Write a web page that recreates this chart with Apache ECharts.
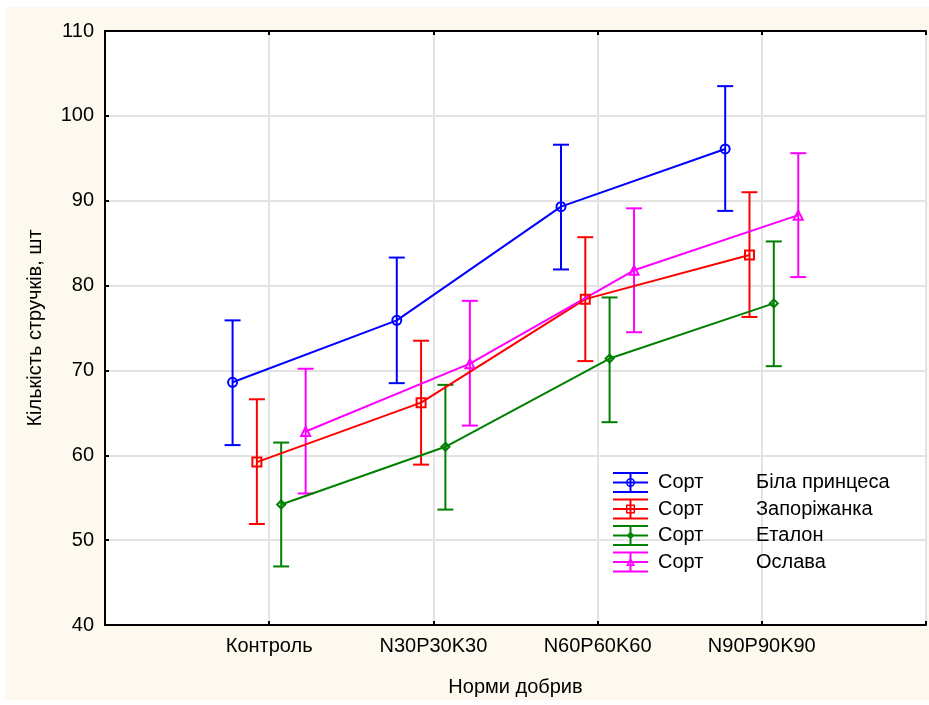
<!DOCTYPE html>
<html>
<head>
<meta charset="utf-8">
<script src="https://cdn.jsdelivr.net/npm/echarts@6/dist/echarts.min.js"></script>
<style>
html,body{margin:0;padding:0;background:#fff;}
#bg{position:absolute;left:5px;top:7px;width:924px;height:693px;background:#FDF9EE;}
#chart{position:absolute;left:0;top:0;width:929px;height:705px;}
</style>
</head>
<body>
<div id="bg"></div>
<div id="chart"></div>
<script>
// ---- data ----
const categories = ['Контроль', 'N30P30K30', 'N60P60K60', 'N90P90K90'];
const varieties = ['Біла принцеса', 'Запоріжанка', 'Еталон', 'Ослава'];
const groupLabel = 'Сорт';

const bilaMean = [68.6, 75.9, 89.3, 96.1];
const bilaLow  = [61.2, 68.5, 81.9, 88.8];
const bilaHigh = [75.9, 83.3, 96.6, 103.5];

const zaporMean = [59.2, 66.2, 78.4, 83.6];
const zaporLow  = [51.9, 58.9, 71.1, 76.3];
const zaporHigh = [66.6, 73.5, 85.7, 91.0];

const etalonMean = [54.2, 61.0, 71.4, 77.9];
const etalonLow  = [46.9, 53.6, 63.9, 70.5];
const etalonHigh = [61.5, 68.3, 78.6, 85.2];

const oslavaMean = [62.8, 70.8, 81.8, 88.3];
const oslavaLow  = [55.5, 63.5, 74.5, 81.0];
const oslavaHigh = [70.2, 78.2, 89.1, 95.6];

const yTicks = [40, 50, 60, 70, 80, 90, 100, 110];
const xTitle = 'Норми добрив';
const yTitle = 'Кількість стручків, шт';

// ---- styling ----
const means = [bilaMean, zaporMean, etalonMean, oslavaMean];
const lows = [bilaLow, zaporLow, etalonLow, oslavaLow];
const highs = [bilaHigh, zaporHigh, etalonHigh, oslavaHigh];
const colors = ['#0000FF', '#FF0000', '#008000', '#FF00FF'];
const offsets = [-0.223, -0.075, 0.073, 0.222];
const symbols = ['circle', 'rect', 'diamond', 'triangle'];
const symbolSizes = [9, 9, 8, 9];
const FONT = 'Liberation Sans, Arial, sans-serif';
const FS = 20;

const bars = 'M0 0H35V2H0Z M0 19H35V21H0Z M0 9.5H35V11.5H0Z M16.5 0H18.5V21H16.5Z ';
const legendMarks = [
  'M22 10.5A4.5 4.5 0 1 1 13 10.5A4.5 4.5 0 1 1 22 10.5Z M20.5 10.5A3 3 0 1 0 14.5 10.5A3 3 0 1 0 20.5 10.5Z',
  'M13 6H22V15H13Z M14.5 7.5V13.5H20.5V7.5Z',
  'M17.5 6.5L21.5 10.5L17.5 14.5L13.5 10.5Z M17.5 8L15 10.5L17.5 13L20 10.5Z',
  'M17.5 5.5L22 14.5H13Z M17.5 8.5L15.4 13H19.6Z'
];

const series = [];
varieties.forEach((name, i) => {
  series.push({
    name: name,
    type: 'custom',
    z: 2,
    data: categories.map((c, k) => [k + 1 + offsets[i], lows[i][k], highs[i][k]]),
    renderItem: function (params, api) {
      const x = api.value(0);
      const lo = api.coord([x, api.value(1)]);
      const hi = api.coord([x, api.value(2)]);
      const hw = 8;
      const st = { stroke: colors[i], lineWidth: 2, fill: null };
      return {
        type: 'group',
        children: [
          { type: 'line', shape: { x1: lo[0], y1: lo[1], x2: hi[0], y2: hi[1] }, style: st },
          { type: 'line', shape: { x1: lo[0] - hw, y1: lo[1], x2: lo[0] + hw, y2: lo[1] }, style: st },
          { type: 'line', shape: { x1: hi[0] - hw, y1: hi[1], x2: hi[0] + hw, y2: hi[1] }, style: st }
        ]
      };
    },
    encode: { x: 0, y: [1, 2] },
    silent: true
  });
  series.push({
    name: name,
    type: 'line',
    z: 3,
    data: categories.map((c, k) => [k + 1 + offsets[i], means[i][k]]),
    symbol: symbols[i],
    symbolSize: symbolSizes[i],
    showAllSymbol: true,
    lineStyle: { color: colors[i], width: 2 },
    itemStyle: { color: 'rgba(0,0,0,0)', borderColor: colors[i], borderWidth: 2 },
    animation: false,
    silent: true
  });
});

const axisLineStyle = { show: true, lineStyle: { color: '#000', width: 2 } };
const tickStyle = { show: true, inside: true, length: 4, lineStyle: { color: '#000', width: 2 } };

const chart = echarts.init(document.getElementById('chart'), null, { renderer: 'canvas' });
chart.setOption({
  animation: false,
  backgroundColor: 'transparent',
  color: colors,
  textStyle: { fontFamily: FONT, color: '#000' },
  grid: {
    left: 105, top: 31, right: 3, bottom: 80,
    show: true, backgroundColor: '#FFFFFF', borderWidth: 0
  },
  legend: {
    orient: 'vertical',
    left: 608,
    top: 467,
    itemWidth: 35,
    itemHeight: 21,
    itemGap: 5.5,
    selectedMode: false,
    data: varieties.map((name, i) => ({
      name: name,
      icon: 'path://' + bars + legendMarks[i],
      itemStyle: { color: colors[i], borderWidth: 0 }
    })),
    formatter: function (name) { return '{a|' + groupLabel + '}{b|' + name + '}'; },
    textStyle: {
      fontFamily: FONT, fontSize: FS, color: '#000', lineHeight: 21,
      rich: {
        a: { fontFamily: FONT, fontSize: FS, color: '#000', width: 98, padding: [0, 0, 0, 5] },
        b: { fontFamily: FONT, fontSize: FS, color: '#000' }
      }
    }
  },
  xAxis: [{
    type: 'value',
    min: 0, max: 5, interval: 1,
    position: 'bottom',
    name: xTitle,
    nameLocation: 'middle',
    nameGap: 52,
    nameTextStyle: { fontFamily: FONT, fontSize: FS, color: '#000' },
    axisLine: axisLineStyle,
    axisTick: tickStyle,
    axisLabel: {
      margin: 11, fontFamily: FONT, fontSize: FS, color: '#000',
      formatter: function (v) { return (v >= 1 && v <= categories.length) ? categories[v - 1] : ''; }
    },
    splitLine: { show: true, lineStyle: { color: '#E3E3E3', width: 2 } }
  }, {
    type: 'value',
    min: 0, max: 5, interval: 1,
    position: 'top',
    axisLine: axisLineStyle,
    axisTick: tickStyle,
    axisLabel: { show: false },
    splitLine: { show: false }
  }],
  yAxis: [{
    type: 'value',
    min: yTicks[0], max: yTicks[yTicks.length - 1], interval: 10,
    position: 'left',
    name: yTitle,
    nameLocation: 'middle',
    nameGap: 60,
    nameTextStyle: { fontFamily: FONT, fontSize: FS, color: '#000' },
    axisLine: axisLineStyle,
    axisTick: tickStyle,
    axisLabel: { margin: 11, fontFamily: FONT, fontSize: FS, color: '#000' },
    splitLine: { show: true, lineStyle: { color: '#E3E3E3', width: 2 } }
  }, {
    type: 'value',
    min: yTicks[0], max: yTicks[yTicks.length - 1], interval: 10,
    position: 'right',
    axisLine: axisLineStyle,
    axisTick: { show: false },
    axisLabel: { show: false },
    splitLine: { show: false }
  }],
  series: series
});
</script>
</body>
</html>
